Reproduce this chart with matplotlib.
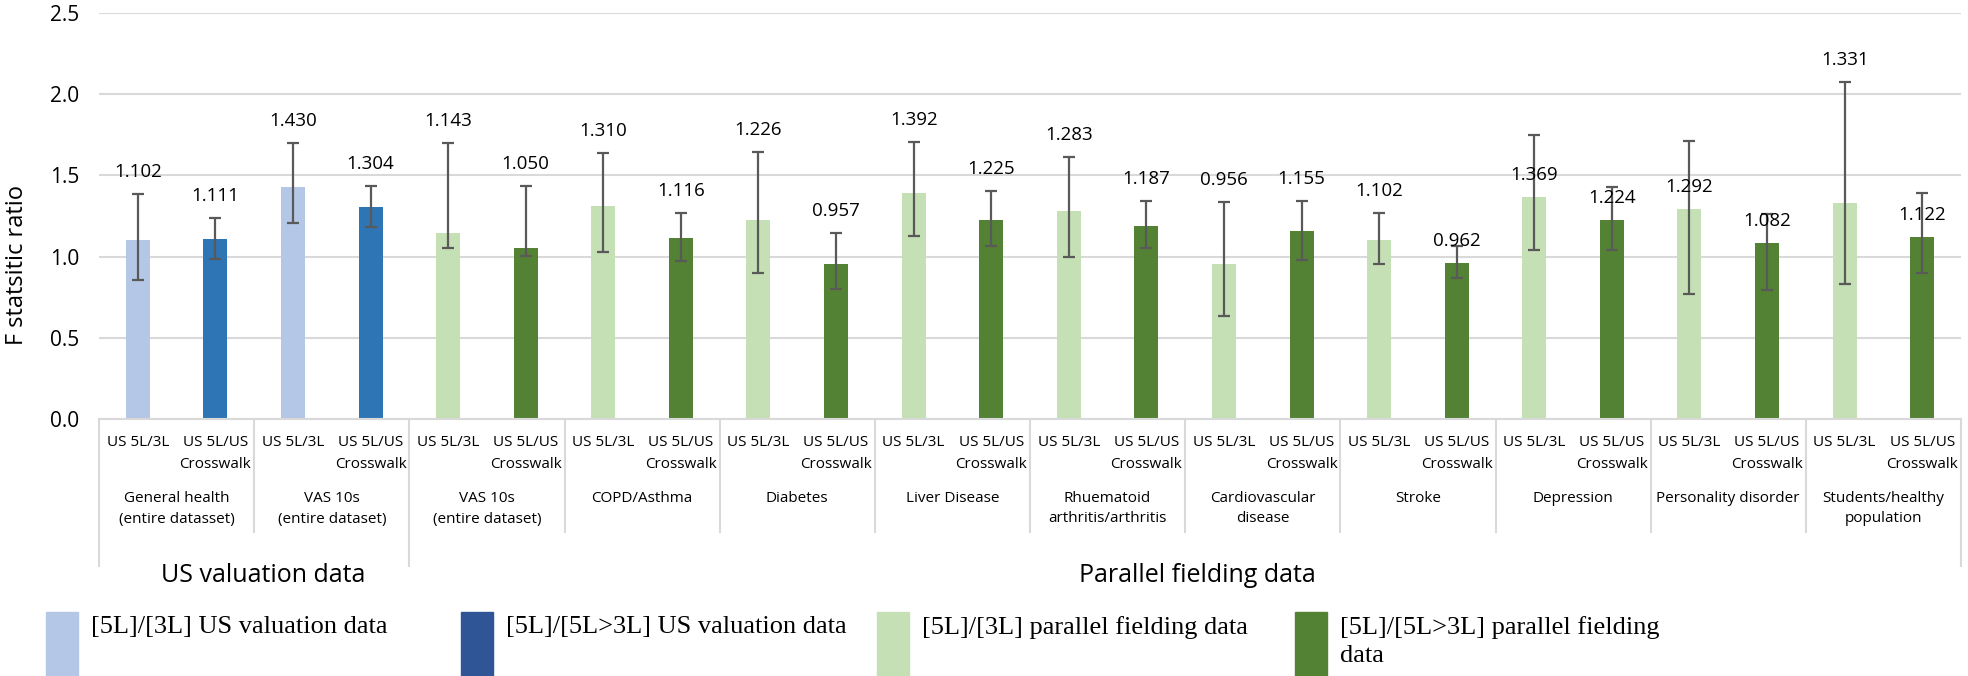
import matplotlib
matplotlib.use("Agg")
import matplotlib.pyplot as plt
import numpy as np
from matplotlib.patches import Rectangle

# groups on the x axis
groups = ["General health\n(entire datasset)", "VAS 10s\n(entire dataset)", "VAS 10s\n(entire dataset)",
          "COPD/Asthma", "Diabetes", "Liver Disease", "Rhuematoid\narthritis/arthritis",
          "Cardiovascular\ndisease", "Stroke", "Depression", "Personality disorder",
          "Students/healthy\npopulation"]
bar_labels = ["US 5L/3L", "US 5L/US\nCrosswalk"]
super_groups = ["US valuation data", "Parallel fielding data"]
n_us_groups = 2

# [5L]/[3L] bars
ratio_3l = [1.102, 1.430, 1.143, 1.310, 1.226, 1.392, 1.283, 0.956, 1.102, 1.369, 1.292, 1.331]
upper_3l = [1.383, 1.700, 1.700, 1.638, 1.646, 1.704, 1.611, 1.335, 1.270, 1.747, 1.710, 2.078]
lower_3l = [0.858, 1.208, 1.056, 1.029, 0.897, 1.128, 0.998, 0.634, 0.957, 1.043, 0.767, 0.833]
# [5L]/[5L>3L] crosswalk bars
ratio_cw = [1.111, 1.304, 1.050, 1.116, 0.957, 1.225, 1.187, 1.155, 0.962, 1.224, 1.082, 1.122]
upper_cw = [1.236, 1.436, 1.436, 1.267, 1.148, 1.401, 1.344, 1.340, 1.064, 1.426, 1.263, 1.389]
lower_cw = [0.986, 1.185, 1.002, 0.971, 0.798, 1.064, 1.056, 0.977, 0.868, 1.043, 0.792, 0.901]

legend_labels = ["[5L]/[3L] US valuation data", "[5L]/[5L>3L] US valuation data",
                 "[5L]/[3L] parallel fielding data", "[5L]/[5L>3L] parallel fielding\ndata"]

LIGHT_BLUE, BLUE, LEGEND_BLUE = "#B4C7E7", "#2E75B6", "#2F5597"
LIGHT_GREEN, GREEN = "#C5E0B4", "#548235"
GRID = "#D9D9D9"
ERR = "#595959"
FONT = "Open Sans"

W, H = 1968, 676
fig = plt.figure(figsize=(W / 100, H / 100), dpi=100)
px = lambda x, y: (x / W, 1 - y / H)

ax_left, ax_right, ax_top, ax_bot = 99, 1961, 13, 419
ax = fig.add_axes([ax_left / W, 1 - ax_bot / H, (ax_right - ax_left) / W, (ax_bot - ax_top) / H])

n = len(groups)
g = np.arange(n)
x3 = 2 * g
xc = 2 * g + 1
col3 = [LIGHT_BLUE if i < n_us_groups else LIGHT_GREEN for i in g]
colc = [BLUE if i < n_us_groups else GREEN for i in g]
bw = 0.31

r3, rc = np.array(ratio_3l), np.array(ratio_cw)
ax.bar(x3, r3, bw, color=col3, zorder=2)
ax.bar(xc, rc, bw, color=colc, zorder=2)
ekw = dict(fmt="none", ecolor=ERR, elinewidth=1.6, capsize=4, capthick=1.6, zorder=3)
ax.errorbar(x3, r3, yerr=[r3 - np.array(lower_3l), np.array(upper_3l) - r3], **ekw)
ax.errorbar(xc, rc, yerr=[rc - np.array(lower_cw), np.array(upper_cw) - rc], **ekw)

# data labels: most sit above the whisker, a few were dragged down onto the bar
on_bar_3l = {9, 10}
on_bar_cw = {8, 9, 10, 11}
for i in g:
    for xs, v, up, on_bar in ((x3[i], r3[i], upper_3l[i], i in on_bar_3l),
                              (xc[i], rc[i], upper_cw[i], i in on_bar_cw)):
        anchor = v if on_bar else up
        ax.annotate(f"{v:.3f}", (xs, anchor), xytext=(0, 22), textcoords="offset pixels",
                    ha="center", va="center", fontsize=13.5, family=FONT, zorder=4)

ax.set_xlim(-0.5, 2 * n - 0.5)
ax.set_ylim(0, 2.5)
ax.set_yticks(np.arange(0, 2.51, 0.5))
ax.set_yticklabels([f"{t:.1f}" for t in np.arange(0, 2.51, 0.5)], family=FONT, fontsize=15)
ax.tick_params(axis="y", length=0, pad=14)
ax.tick_params(axis="x", length=0, labelbottom=False)
ax.grid(axis="y", color=GRID, linewidth=1.5, zorder=0)
for s in ("left", "right", "top"):
    ax.spines[s].set_visible(False)
ax.spines["bottom"].set_color(GRID)
ax.spines["bottom"].set_linewidth(1.5)

# multi-level category axis drawn below the plot
to_ax = lambda p: (ax_bot - p) / (ax_bot - ax_top)
trans = ax.get_xaxis_transform()
for b in range(n + 1):
    long_line = b in (0, n_us_groups, n)
    y_end = to_ax(566 if long_line else 532)
    ax.plot([2 * b - 0.5] * 2, [0, y_end], color=GRID, lw=1.5, transform=trans, clip_on=False)


def lines_at(x, y_first, text, step, size):
    for k, line in enumerate(text.split("\n")):
        ax.text(x, to_ax(y_first + k * step), line, transform=trans, ha="center", va="center",
                fontsize=size, family=FONT)


for i in g:
    lines_at(x3[i], 442, bar_labels[0], 22, 11)
    lines_at(xc[i], 442, bar_labels[1], 22, 11)
    lines_at(2 * i + 0.5, 499, groups[i], 20, 11)

lines_at(n_us_groups - 0.5 + 0.12, 575, super_groups[0], 0, 18)
lines_at((2 * n_us_groups + 2 * n) / 2 - 0.5 + 0.16, 575, super_groups[1], 0, 18)

fig.text(*px(17, 265), "F statsitic ratio", rotation=90, ha="center", va="center",
         fontsize=17, family=FONT)

# legend
leg_cols = [LIGHT_BLUE, LEGEND_BLUE, LIGHT_GREEN, GREEN]
leg_x = [46, 461, 877, 1295]
for c, lx, lab in zip(leg_cols, leg_x, legend_labels):
    x0, y0 = px(lx, 676)
    fig.patches.append(Rectangle((x0, y0), 32 / W, 64 / H, transform=fig.transFigure,
                                 color=c, zorder=1))
    fig.text(*px(lx + 45, 616), lab, ha="left", va="top", fontsize=19,
             family="Liberation Serif", linespacing=1.35)

fig.savefig("out.png", dpi=100)
